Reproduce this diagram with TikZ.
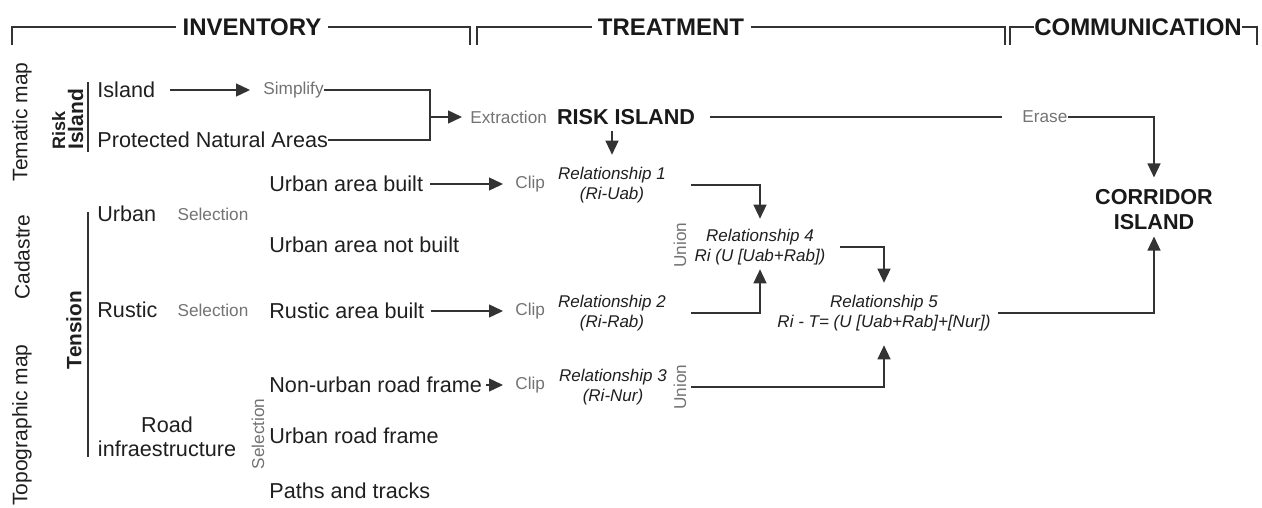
\documentclass[tikz,border=0pt]{standalone}
\usepackage{fontspec}
\setmainfont{Liberation Sans}
\usetikzlibrary{arrows.meta,positioning,calc}

\begin{document}
\begin{tikzpicture}
    [x=0.5pt, y=-0.5pt,
      ln/.style={draw=black!80, line width=0.7pt},
      arr/.style={ln, -{Triangle[length=7pt,width=6.5pt]}},
      hd/.style={font=\fontsize{12}{14}\selectfont\bfseries, text=black!90, inner sep=3pt},
      txt/.style={font=\fontsize{10.8}{12}\selectfont, text=black!88, inner sep=0pt, anchor=west},
      op/.style={font=\fontsize{8.6}{10}\selectfont, text=black!55, inner sep=0pt},
      rel/.style={font=\fontsize{8.5}{10}\selectfont\itshape, text=black!88, align=center, inner sep=0pt},
      big/.style={font=\fontsize{10.8}{12.5}\selectfont\bfseries, text=black!90, align=center, inner sep=0pt},
      side/.style={font=\fontsize{10.5}{12}\selectfont, text=black!88, rotate=90, inner sep=0pt},
    ]
    \useasboundingbox (0,0) rectangle (1262,508);

    \node [hd] (inv) at (252,27) {INVENTORY};
    \node [hd] (trt) at (671,27) {TREATMENT};
    \node [hd, inner sep=0pt] (com) at (1138,27) {COMMUNICATION};
    \draw [ln] (12,45) |- (inv.west);
    \draw [ln] (inv.east) -| (470,45);
    \draw [ln] (477,45) |- (trt.west);
    \draw [ln] (trt.east) -| (1005,45);
    \draw [ln] (1010,45) |- (com.west);
    \draw [ln] (com.east) -| (1257,45);

    \node [side] (tem) at (22,122) {Tematic map};
    \node [side] (cad) at (22,257) {Cadastre};
    \node [side] (topo) at (22,425) {Topographic map};
    \node [side, font=\fontsize{9}{10}\selectfont\bfseries, anchor=base west] (risk) at (65,150) {Risk};
    \node [side, font=\fontsize{10.5}{12}\selectfont\bfseries, anchor=base west] (isd) at (83,150) {Island};
    \node [side, font=\fontsize{10.4}{12}\selectfont\bfseries] (ten) at (74,330) {Tension};
    \draw [ln] (88,82) -- (88,152);
    \draw [ln] (88,212) -- (88,457);

    \node [txt] (isl) at (97,90) {Island};
    \node [txt] (pna) at (97,140) {Protected Natural Areas};
    \node [txt] (urb) at (97,214) {Urban};
    \node [txt] (rus) at (97,310) {Rustic};
    \node [txt, anchor=center, align=center, font=\fontsize{10.8}{12}\selectfont] (road) at (167,437) {Road\\infraestructure};
    \node [op] (sel1) at (213,214) {Selection};
    \node [op] (sel2) at (213,310) {Selection};
    \node [op, rotate=90] (sel3) at (258,434) {Selection};

    \node [op, anchor=west] (simp) at (263,90) {Simplify};
    \node [op, anchor=west] (ext) at (470,117) {Extraction};
    \node [big] (ri) at (626,117) {RISK ISLAND};
    \node [op, anchor=west] (ers) at (1022,117) {Erase};
    \node [big] (cor) at (1154,210) {CORRIDOR\\ISLAND};

    \node [txt] (uab) at (269,184) {Urban area built};
    \node [txt] (uanb) at (269,245) {Urban area not built};
    \node [txt] (rab) at (269,311) {Rustic area built};
    \node [txt] (nur) at (269,385) {Non-urban road frame};
    \node [txt] (urf) at (269,436) {Urban road frame};
    \node [txt] (pat) at (269,491) {Paths and tracks};
    \node [op, anchor=west] (clp1) at (515,184) {Clip};
    \node [op, anchor=west] (clp2) at (515,311) {Clip};
    \node [op, anchor=west] (clp3) at (515,385) {Clip};

    \node [rel] (r1) at (612,185) {Relationship 1\\(Ri-Uab)};
    \node [rel] (r2) at (612,313) {Relationship 2\\(Ri-Rab)};
    \node [rel] (r3) at (613,387) {Relationship 3\\(Ri-Nur)};
    \node [rel] (r4) at (760,247) {Relationship 4\\Ri (U [Uab+Rab])};
    \node [rel] (r5) at (884,313) {Relationship 5\\Ri - T= (U [Uab+Rab]+[Nur])};
    \node [op, rotate=90] (un1) at (680,245) {Union};
    \node [op, rotate=90] (un2) at (680,387) {Union};

    \coordinate (jn) at (430,117);
    \draw [arr, shorten <=7.5pt, shorten >=6.5pt] (isl.east) -- (simp.west);
    \draw [ln] (simp.east) -| (jn);
    \draw [ln] (pna.east) -| (jn);
    \draw [arr, shorten >=4pt] (jn) -- (ext.west);
    \draw [ln, shorten <=7.5pt, shorten >=10pt] (ri.east) -- (ers.west);
    \draw [arr, shorten >=6pt] (ers.east) -| (cor.north);
    \draw [arr, shorten <=3pt, shorten >=6pt] (ri.south -| r1.north) -- (r1.north);

    \draw [arr, shorten <=3.5pt, shorten >=6pt] (uab.east) -- (clp1.west);
    \draw [arr, shorten <=3pt, shorten >=6pt] (rab.east) -- (clp2.west);
    \draw [arr, shorten <=2pt, shorten >=6pt] (nur.east) -- (clp3.west);

    \draw [arr, shorten <=12.5pt, shorten >=5pt] (r1.east) -| (r4.north);
    \draw [arr, shorten <=12.5pt, shorten >=2pt] (r2.east) -| (r4.south);
    \draw [arr, shorten <=7pt, shorten >=6pt] (r4.east) -| (r5.north);
    \draw [arr, shorten <=12pt, shorten >=7pt] (r3.east) -| (r5.south);
    \draw [arr, shorten <=3.5pt, shorten >=3pt] (r5.east) -| (cor.south);
\end{tikzpicture}
\end{document}
